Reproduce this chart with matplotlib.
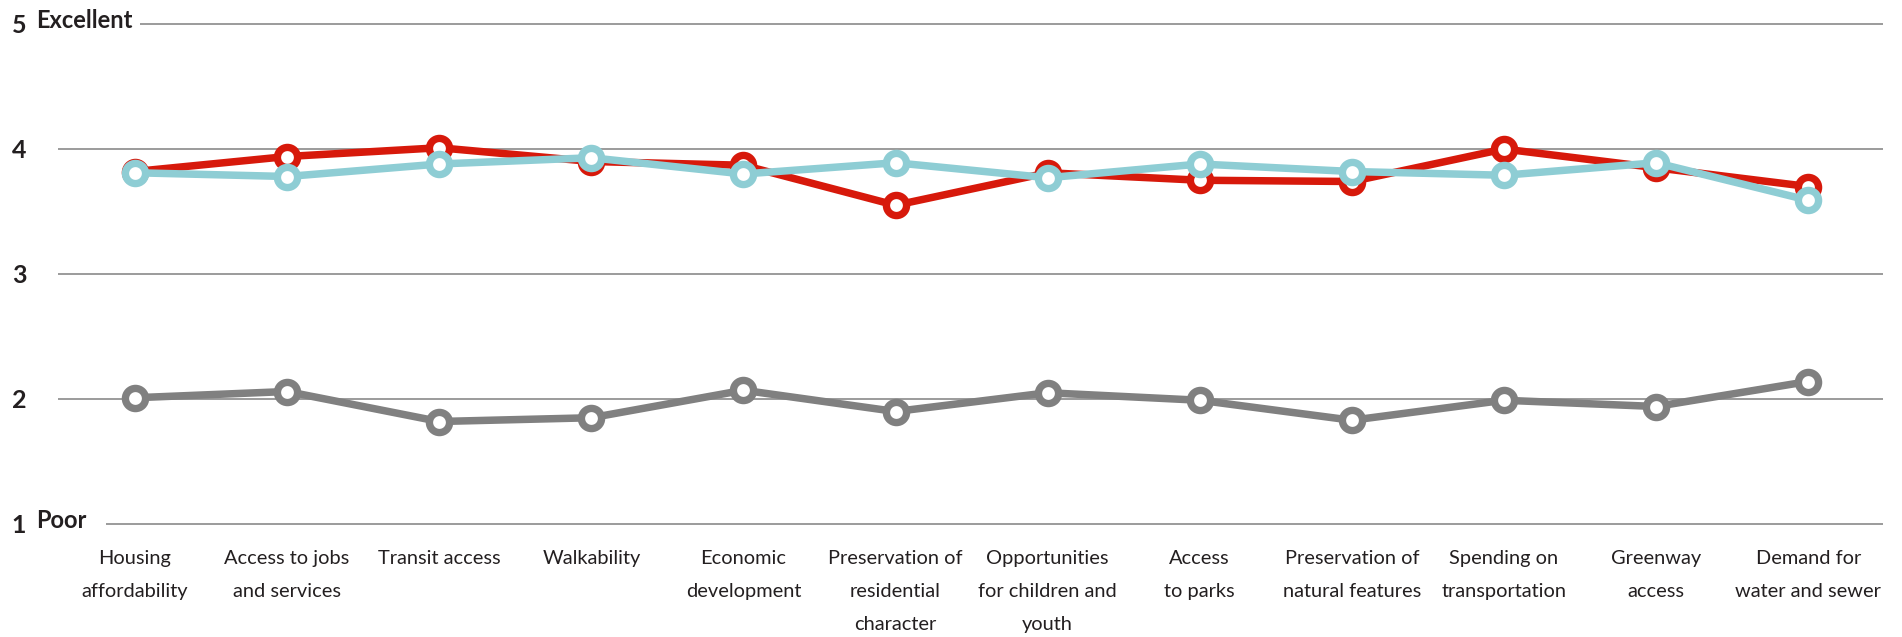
import numpy as np
import matplotlib
matplotlib.use("Agg")
import matplotlib.pyplot as plt

plt.rcParams['font.family'] = ['Lato', 'DejaVu Sans']

categories = ["Housing\naffordability", "Access to jobs\nand services", "Transit access",
              "Walkability", "Economic\ndevelopment", "Preservation of\nresidential\ncharacter",
              "Opportunities\nfor children and\nyouth", "Access\nto parks",
              "Preservation of\nnatural features", "Spending on\ntransportation",
              "Greenway\naccess", "Demand for\nwater and sewer"]

red_vals = [3.82, 3.94, 4.01, 3.90, 3.87, 3.55, 3.81, 3.75, 3.74, 4.00, 3.85, 3.70]
teal_vals = [3.81, 3.78, 3.88, 3.93, 3.80, 3.89, 3.77, 3.88, 3.82, 3.79, 3.89, 3.59]
gray_vals = [2.01, 2.06, 1.82, 1.85, 2.07, 1.90, 2.05, 1.99, 1.83, 1.99, 1.94, 2.14]

grid_levels = [5, 4, 3, 2, 1]
grid_starts = [0.033, -0.506, -0.506, -0.506, -0.19]
level_names = {5: "Excellent", 1: "Poor"}

fig = plt.figure(figsize=(19.02, 6.37), dpi=100)
ax = fig.add_axes([0, 0, 1, 1])
ax.set_xlim(-0.8876, 11.617)
ax.set_ylim(0.096, 5.192)
ax.axis("off")

x = np.arange(len(categories))

for lvl, x0 in zip(grid_levels, grid_starts):
    ax.hlines(lvl, x0, 11.493, color="#8a8a8a", lw=1.2, zorder=1)
    ax.text(-0.81, lvl - 0.01, str(lvl), fontsize=18, fontweight="bold",
            color="#231f20", ha="left", va="center")
    if lvl in level_names:
        ax.text(-0.651, lvl + 0.03, level_names[lvl], fontsize=17, fontweight="bold",
                color="#231f20", ha="left", va="center")

style = dict(lw=5.4, marker="o", ms=14.5, mew=5.3, mfc="white")
ax.plot(x, gray_vals, color="#808080", mec="#808080", zorder=2, **style)
ax.plot(x, red_vals, color="#d7190b", mec="#d7190b", zorder=3, **style)
ax.plot(x, teal_vals, color="#8ecdd4", mec="#8ecdd4", zorder=4, **style)

for xi, lab in zip(x, categories):
    ax.text(xi, 0.79, lab, fontsize=14.4, color="#231f20", ha="center", va="top",
            linespacing=2.15)

fig.savefig("out.png", dpi=100)
